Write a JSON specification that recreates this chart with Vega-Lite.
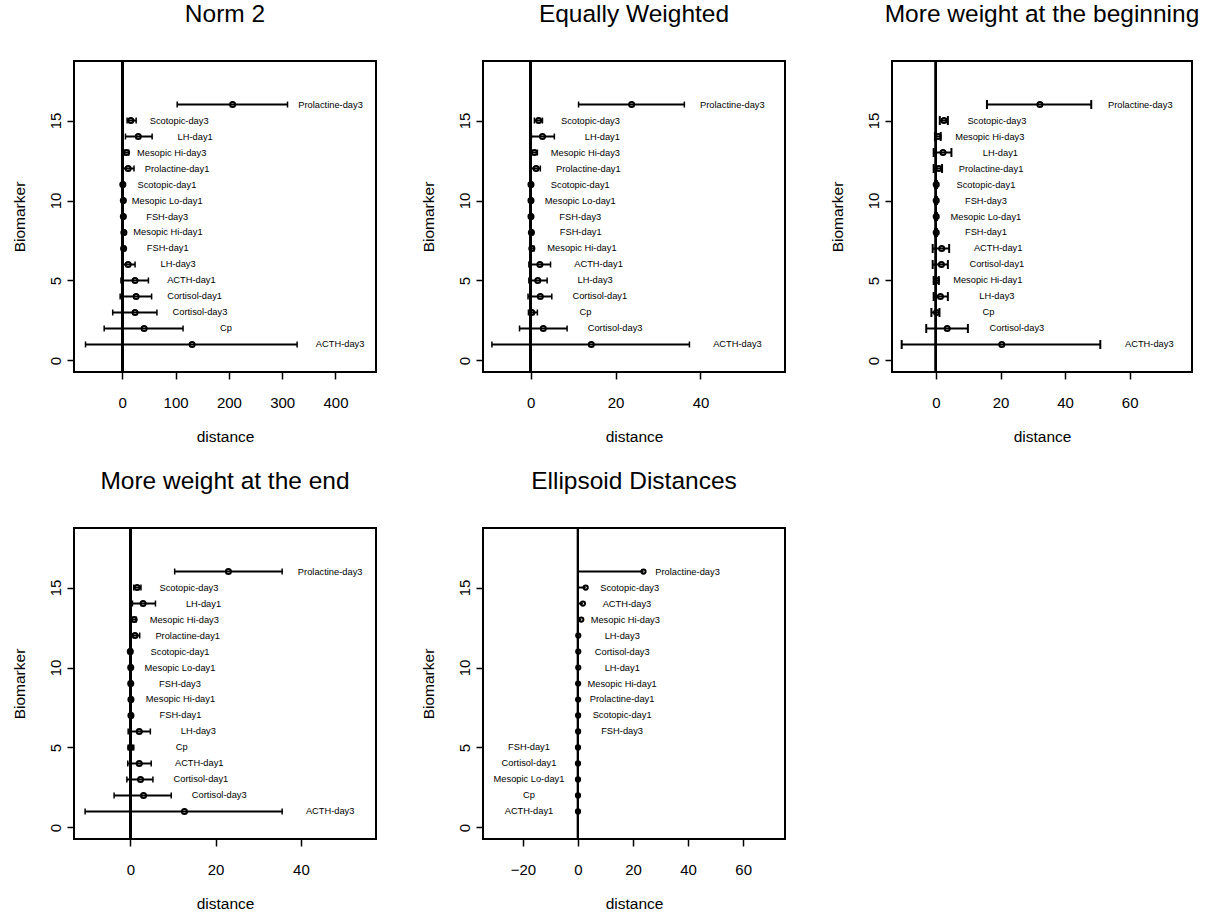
{
  "$schema": "https://vega.github.io/schema/vega-lite/v6.json",
  "padding": {"left": 11, "top": 0, "right": 0, "bottom": 0},
  "background": "white",
  "columns": 3,
  "spacing": {"row": 156, "column": 107},
  "bounds": "flush",
  "datasets": {
    "norm2": [
      {"name": "Prolactine-day3", "pos": 16, "lo": 103, "d": 207, "hi": 310},
      {"name": "Scotopic-day3", "pos": 15, "lo": 9, "d": 16, "hi": 26},
      {"name": "LH-day1", "pos": 14, "lo": 6, "d": 30, "hi": 56},
      {"name": "Mesopic Hi-day3", "pos": 13, "lo": 4, "d": 8, "hi": 12},
      {"name": "Prolactine-day1", "pos": 12, "lo": 1, "d": 11, "hi": 22},
      {"name": "Scotopic-day1", "pos": 11, "lo": 0, "d": 1, "hi": 3},
      {"name": "Mesopic Lo-day1", "pos": 10, "lo": 0.5, "d": 2, "hi": 3.5},
      {"name": "FSH-day3", "pos": 9, "lo": 0.5, "d": 2, "hi": 3.5},
      {"name": "Mesopic Hi-day1", "pos": 8, "lo": 1, "d": 3, "hi": 5},
      {"name": "FSH-day1", "pos": 7, "lo": 0.5, "d": 2.5, "hi": 4.5},
      {"name": "LH-day3", "pos": 6, "lo": -1, "d": 11, "hi": 24},
      {"name": "ACTH-day1", "pos": 5, "lo": -2.5, "d": 24, "hi": 49},
      {"name": "Cortisol-day1", "pos": 4, "lo": -4, "d": 26, "hi": 55},
      {"name": "Cortisol-day3", "pos": 3, "lo": -18, "d": 24, "hi": 65},
      {"name": "Cp", "pos": 2, "lo": -34, "d": 41, "hi": 114},
      {"name": "ACTH-day3", "pos": 1, "lo": -69, "d": 131, "hi": 328}
    ],
    "equal": [
      {"name": "Prolactine-day3", "pos": 16, "lo": 11.3, "d": 23.8, "hi": 36.2},
      {"name": "Scotopic-day3", "pos": 15, "lo": 0.9, "d": 1.9, "hi": 2.8},
      {"name": "LH-day1", "pos": 14, "lo": 0.2, "d": 2.8, "hi": 5.6},
      {"name": "Mesopic Hi-day3", "pos": 13, "lo": 0.3, "d": 0.9, "hi": 1.6},
      {"name": "Prolactine-day1", "pos": 12, "lo": 0.1, "d": 1.3, "hi": 2.3},
      {"name": "Scotopic-day1", "pos": 11, "lo": -0.1, "d": 0.1, "hi": 0.4},
      {"name": "Mesopic Lo-day1", "pos": 10, "lo": -0.1, "d": 0.1, "hi": 0.4},
      {"name": "FSH-day3", "pos": 9, "lo": -0.1, "d": 0.1, "hi": 0.4},
      {"name": "FSH-day1", "pos": 8, "lo": 0, "d": 0.2, "hi": 0.5},
      {"name": "Mesopic Hi-day1", "pos": 7, "lo": 0, "d": 0.3, "hi": 0.8},
      {"name": "ACTH-day1", "pos": 6, "lo": -0.4, "d": 2.2, "hi": 4.7},
      {"name": "LH-day3", "pos": 5, "lo": -0.4, "d": 1.7, "hi": 3.9},
      {"name": "Cortisol-day1", "pos": 4, "lo": -0.6, "d": 2.3, "hi": 5.0},
      {"name": "Cp", "pos": 3, "lo": -0.5, "d": 0.3, "hi": 1.6},
      {"name": "Cortisol-day3", "pos": 2, "lo": -2.6, "d": 3.0, "hi": 8.6},
      {"name": "ACTH-day3", "pos": 1, "lo": -9.1, "d": 14.3, "hi": 37.4}
    ],
    "begin": [
      {"name": "Prolactine-day3", "pos": 16, "lo": 15.8, "d": 32.2, "hi": 48.1},
      {"name": "Scotopic-day3", "pos": 15, "lo": 1.2, "d": 2.5, "hi": 3.7},
      {"name": "Mesopic Hi-day3", "pos": 14, "lo": -0.3, "d": 0.7, "hi": 1.5},
      {"name": "LH-day1", "pos": 13, "lo": -0.7, "d": 2.2, "hi": 4.8},
      {"name": "Prolactine-day1", "pos": 12, "lo": -0.7, "d": 0.9, "hi": 1.9},
      {"name": "Scotopic-day1", "pos": 11, "lo": -0.2, "d": 0.1, "hi": 0.3},
      {"name": "FSH-day3", "pos": 10, "lo": -0.2, "d": 0.1, "hi": 0.3},
      {"name": "Mesopic Lo-day1", "pos": 9, "lo": -0.2, "d": 0.1, "hi": 0.3},
      {"name": "FSH-day1", "pos": 8, "lo": -0.2, "d": 0.1, "hi": 0.3},
      {"name": "ACTH-day1", "pos": 7, "lo": -1.0, "d": 1.8, "hi": 4.1},
      {"name": "Cortisol-day1", "pos": 6, "lo": -1.0, "d": 1.7, "hi": 3.7},
      {"name": "Mesopic Hi-day1", "pos": 5, "lo": -0.7, "d": 0.2, "hi": 0.9},
      {"name": "LH-day3", "pos": 4, "lo": -0.7, "d": 1.4, "hi": 3.7},
      {"name": "Cp", "pos": 3, "lo": -1.4, "d": 0.2, "hi": 1.1},
      {"name": "Cortisol-day3", "pos": 2, "lo": -3.0, "d": 3.5, "hi": 9.9},
      {"name": "ACTH-day3", "pos": 1, "lo": -10.6, "d": 20.4, "hi": 50.9}
    ],
    "end": [
      {"name": "Prolactine-day3", "pos": 16, "lo": 10.4, "d": 23.0, "hi": 35.6},
      {"name": "Scotopic-day3", "pos": 15, "lo": 0.8, "d": 1.6, "hi": 2.5},
      {"name": "LH-day1", "pos": 14, "lo": 0.5, "d": 3.0, "hi": 5.9},
      {"name": "Mesopic Hi-day3", "pos": 13, "lo": 0.3, "d": 0.9, "hi": 1.4},
      {"name": "Prolactine-day1", "pos": 12, "lo": 0, "d": 1.1, "hi": 2.2},
      {"name": "Scotopic-day1", "pos": 11, "lo": -0.3, "d": 0, "hi": 0.4},
      {"name": "Mesopic Lo-day1", "pos": 10, "lo": -0.2, "d": 0.1, "hi": 0.4},
      {"name": "FSH-day3", "pos": 9, "lo": -0.2, "d": 0.1, "hi": 0.4},
      {"name": "Mesopic Hi-day1", "pos": 8, "lo": -0.1, "d": 0.15, "hi": 0.5},
      {"name": "FSH-day1", "pos": 7, "lo": -0.1, "d": 0.15, "hi": 0.5},
      {"name": "LH-day3", "pos": 6, "lo": -0.5, "d": 2.1, "hi": 4.7},
      {"name": "Cp", "pos": 5, "lo": -0.5, "d": 0.1, "hi": 0.8},
      {"name": "ACTH-day1", "pos": 4, "lo": -0.6, "d": 2.1, "hi": 4.9},
      {"name": "Cortisol-day1", "pos": 3, "lo": -0.8, "d": 2.4, "hi": 5.3},
      {"name": "Cortisol-day3", "pos": 2, "lo": -3.8, "d": 3.1, "hi": 9.6},
      {"name": "ACTH-day3", "pos": 1, "lo": -10.6, "d": 12.7, "hi": 35.6}
    ],
    "ellipsoid": [
      {"name": "Prolactine-day3", "pos": 16, "d": 23.8},
      {"name": "Scotopic-day3", "pos": 15, "d": 2.8},
      {"name": "ACTH-day3", "pos": 14, "d": 1.8},
      {"name": "Mesopic Hi-day3", "pos": 13, "d": 1.2},
      {"name": "LH-day3", "pos": 12, "d": 0.1},
      {"name": "Cortisol-day3", "pos": 11, "d": 0.1},
      {"name": "LH-day1", "pos": 10, "d": 0.1},
      {"name": "Mesopic Hi-day1", "pos": 9, "d": 0.05},
      {"name": "Prolactine-day1", "pos": 8, "d": 0.05},
      {"name": "Scotopic-day1", "pos": 7, "d": 0.05},
      {"name": "FSH-day3", "pos": 6, "d": 0.05},
      {"name": "FSH-day1", "pos": 5, "d": 0},
      {"name": "Cortisol-day1", "pos": 4, "d": 0},
      {"name": "Mesopic Lo-day1", "pos": 3, "d": 0},
      {"name": "Cp", "pos": 2, "d": 0},
      {"name": "ACTH-day1", "pos": 1, "d": 0}
    ]
  },
  "concat": [
    {
      "title": "Norm 2",
      "width": 302, "height": 311,
      "data": {"name": "norm2"},
      "layer": [
        {"mark": {"type": "rule", "strokeWidth": 2, "color": "black"},
         "encoding": {"x": {"field": "lo", "type": "quantitative", "scale": {"domain": [-90.6, 476], "nice": false, "zero": false}, "axis": {"values": [0, 100, 200, 300, 400], "title": "distance"}},
                      "x2": {"field": "hi"},
                      "y": {"field": "pos", "type": "quantitative", "scale": {"domain": [-0.72, 18.72], "nice": false, "zero": false}, "axis": {"values": [0, 5, 10, 15], "title": "Biomarker"}}}},
        {"mark": {"type": "rule", "strokeWidth": 2, "color": "black"}, "encoding": {"x": {"datum": 0, "type": "quantitative"}}},
        {"mark": {"type": "tick", "orient": "vertical", "size": 6, "thickness": 1.5, "color": "black", "opacity": 1},
         "encoding": {"x": {"field": "lo", "type": "quantitative"}, "y": {"field": "pos", "type": "quantitative"}}},
        {"mark": {"type": "tick", "orient": "vertical", "size": 6, "thickness": 1.5, "color": "black", "opacity": 1},
         "encoding": {"x": {"field": "hi", "type": "quantitative"}, "y": {"field": "pos", "type": "quantitative"}}},
        {"mark": {"type": "point", "shape": "circle", "filled": false, "size": 26, "strokeWidth": 2, "color": "black", "opacity": 1},
         "encoding": {"x": {"field": "d", "type": "quantitative"}, "y": {"field": "pos", "type": "quantitative"}}},
        {"mark": {"type": "text", "dx": 43, "align": "center", "baseline": "middle", "fontSize": 9.3, "font": "Liberation Sans", "color": "black"},
         "encoding": {"x": {"field": "hi", "type": "quantitative"}, "y": {"field": "pos", "type": "quantitative"}, "text": {"field": "name"}}}
      ]
    },
    {
      "title": "Equally Weighted",
      "width": 302, "height": 311,
      "data": {"name": "equal"},
      "layer": [
        {"mark": {"type": "rule", "strokeWidth": 2, "color": "black"},
         "encoding": {"x": {"field": "lo", "type": "quantitative", "scale": {"domain": [-11.2, 59.9], "nice": false, "zero": false}, "axis": {"values": [0, 20, 40], "title": "distance"}},
                      "x2": {"field": "hi"},
                      "y": {"field": "pos", "type": "quantitative", "scale": {"domain": [-0.72, 18.72], "nice": false, "zero": false}, "axis": {"values": [0, 5, 10, 15], "title": "Biomarker"}}}},
        {"mark": {"type": "rule", "strokeWidth": 2, "color": "black"}, "encoding": {"x": {"datum": 0, "type": "quantitative"}}},
        {"mark": {"type": "tick", "orient": "vertical", "size": 6, "thickness": 1.5, "color": "black", "opacity": 1},
         "encoding": {"x": {"field": "lo", "type": "quantitative"}, "y": {"field": "pos", "type": "quantitative"}}},
        {"mark": {"type": "tick", "orient": "vertical", "size": 6, "thickness": 1.5, "color": "black", "opacity": 1},
         "encoding": {"x": {"field": "hi", "type": "quantitative"}, "y": {"field": "pos", "type": "quantitative"}}},
        {"mark": {"type": "point", "shape": "circle", "filled": false, "size": 26, "strokeWidth": 2, "color": "black", "opacity": 1},
         "encoding": {"x": {"field": "d", "type": "quantitative"}, "y": {"field": "pos", "type": "quantitative"}}},
        {"mark": {"type": "text", "dx": 48, "align": "center", "baseline": "middle", "fontSize": 9.3, "font": "Liberation Sans", "color": "black"},
         "encoding": {"x": {"field": "hi", "type": "quantitative"}, "y": {"field": "pos", "type": "quantitative"}, "text": {"field": "name"}}}
      ]
    },
    {
      "title": "More weight at the beginning",
      "width": 300, "height": 311,
      "data": {"name": "begin"},
      "layer": [
        {"mark": {"type": "rule", "strokeWidth": 2, "color": "black"},
         "encoding": {"x": {"field": "lo", "type": "quantitative", "scale": {"domain": [-13.6, 79.3], "nice": false, "zero": false}, "axis": {"values": [0, 20, 40, 60], "title": "distance"}},
                      "x2": {"field": "hi"},
                      "y": {"field": "pos", "type": "quantitative", "scale": {"domain": [-0.72, 18.72], "nice": false, "zero": false}, "axis": {"values": [0, 5, 10, 15], "title": "Biomarker"}}}},
        {"mark": {"type": "rule", "strokeWidth": 2, "color": "black"}, "encoding": {"x": {"datum": 0, "type": "quantitative"}}},
        {"mark": {"type": "tick", "orient": "vertical", "size": 9, "thickness": 2, "color": "black", "opacity": 1},
         "encoding": {"x": {"field": "lo", "type": "quantitative"}, "y": {"field": "pos", "type": "quantitative"}}},
        {"mark": {"type": "tick", "orient": "vertical", "size": 9, "thickness": 2, "color": "black", "opacity": 1},
         "encoding": {"x": {"field": "hi", "type": "quantitative"}, "y": {"field": "pos", "type": "quantitative"}}},
        {"mark": {"type": "point", "shape": "circle", "filled": false, "size": 26, "strokeWidth": 2, "color": "black", "opacity": 1},
         "encoding": {"x": {"field": "d", "type": "quantitative"}, "y": {"field": "pos", "type": "quantitative"}}},
        {"mark": {"type": "text", "dx": 49, "align": "center", "baseline": "middle", "fontSize": 9.3, "font": "Liberation Sans", "color": "black"},
         "encoding": {"x": {"field": "hi", "type": "quantitative"}, "y": {"field": "pos", "type": "quantitative"}, "text": {"field": "name"}}}
      ]
    },
    {
      "title": "More weight at the end",
      "width": 302, "height": 311,
      "data": {"name": "end"},
      "layer": [
        {"mark": {"type": "rule", "strokeWidth": 2, "color": "black"},
         "encoding": {"x": {"field": "lo", "type": "quantitative", "scale": {"domain": [-13.2, 57.6], "nice": false, "zero": false}, "axis": {"values": [0, 20, 40], "title": "distance"}},
                      "x2": {"field": "hi"},
                      "y": {"field": "pos", "type": "quantitative", "scale": {"domain": [-0.72, 18.72], "nice": false, "zero": false}, "axis": {"values": [0, 5, 10, 15], "title": "Biomarker"}}}},
        {"mark": {"type": "rule", "strokeWidth": 2, "color": "black"}, "encoding": {"x": {"datum": 0, "type": "quantitative"}}},
        {"mark": {"type": "tick", "orient": "vertical", "size": 6, "thickness": 1.5, "color": "black", "opacity": 1},
         "encoding": {"x": {"field": "lo", "type": "quantitative"}, "y": {"field": "pos", "type": "quantitative"}}},
        {"mark": {"type": "tick", "orient": "vertical", "size": 6, "thickness": 1.5, "color": "black", "opacity": 1},
         "encoding": {"x": {"field": "hi", "type": "quantitative"}, "y": {"field": "pos", "type": "quantitative"}}},
        {"mark": {"type": "point", "shape": "circle", "filled": false, "size": 26, "strokeWidth": 2, "color": "black", "opacity": 1},
         "encoding": {"x": {"field": "d", "type": "quantitative"}, "y": {"field": "pos", "type": "quantitative"}}},
        {"mark": {"type": "text", "dx": 48, "align": "center", "baseline": "middle", "fontSize": 9.3, "font": "Liberation Sans", "color": "black"},
         "encoding": {"x": {"field": "hi", "type": "quantitative"}, "y": {"field": "pos", "type": "quantitative"}, "text": {"field": "name"}}}
      ]
    },
    {
      "title": "Ellipsoid Distances",
      "width": 302, "height": 311,
      "data": {"name": "ellipsoid"},
      "layer": [
        {"mark": {"type": "rule", "strokeWidth": 2, "color": "black"},
         "encoding": {"x": {"field": "d", "type": "quantitative", "scale": {"domain": [-34.5, 75.2], "nice": false, "zero": false}, "axis": {"values": [-20, 0, 20, 40, 60], "title": "distance"}},
                      "x2": {"datum": 0},
                      "y": {"field": "pos", "type": "quantitative", "scale": {"domain": [-0.72, 18.72], "nice": false, "zero": false}, "axis": {"values": [0, 5, 10, 15], "title": "Biomarker"}}}},
        {"mark": {"type": "rule", "strokeWidth": 2, "color": "black"}, "encoding": {"x": {"datum": 0, "type": "quantitative"}}},
        {"mark": {"type": "point", "shape": "circle", "filled": false, "size": 18, "strokeWidth": 2, "color": "black", "opacity": 1},
         "encoding": {"x": {"field": "d", "type": "quantitative"}, "y": {"field": "pos", "type": "quantitative"}}},
        {"transform": [{"filter": "datum.d > 0"}],
         "mark": {"type": "text", "dx": 44, "align": "center", "baseline": "middle", "fontSize": 9.3, "font": "Liberation Sans", "color": "black"},
         "encoding": {"x": {"field": "d", "type": "quantitative"}, "y": {"field": "pos", "type": "quantitative"}, "text": {"field": "name"}}},
        {"transform": [{"filter": "datum.d <= 0"}],
         "mark": {"type": "text", "dx": -49, "align": "center", "baseline": "middle", "fontSize": 9.3, "font": "Liberation Sans", "color": "black"},
         "encoding": {"x": {"field": "d", "type": "quantitative"}, "y": {"field": "pos", "type": "quantitative"}, "text": {"field": "name"}}}
      ]
    }
  ],
  "config": {
    "view": {"stroke": "black", "strokeWidth": 2},
    "font": "Liberation Sans",
    "title": {"font": "Liberation Sans", "fontSize": 24.5, "fontWeight": "normal", "color": "black", "baseline": "alphabetic", "offset": 33, "anchor": "middle"},
    "axis": {"domain": false, "grid": false, "ticks": true, "tickColor": "black", "tickSize": 7, "tickWidth": 1.5, "labelColor": "black", "labelFont": "Liberation Sans", "labelFontSize": 15, "titleFont": "Liberation Sans", "titleFontSize": 15.5, "titleFontWeight": "normal", "titleColor": "black", "labelOverlap": false, "labelFlush": false},
    "axisX": {"labelPadding": 28.7, "labelBaseline": "alphabetic", "titleY": 69, "titleBaseline": "alphabetic"},
    "axisY": {"labelAngle": -90, "labelAlign": "center", "labelBaseline": "alphabetic", "labelPadding": 7, "titleX": -50, "titleY": 155.5, "titleAngle": -90, "titleBaseline": "alphabetic", "titleAlign": "center"}
  }
}
